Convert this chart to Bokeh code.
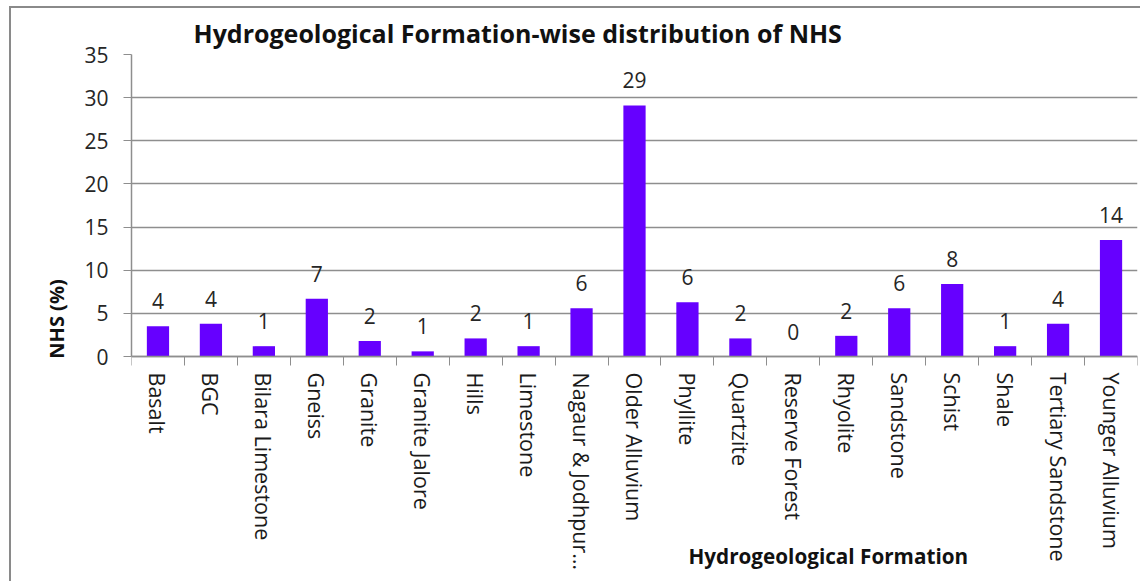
import math
from bokeh.plotting import figure
from bokeh.models import (ColumnDataSource, Range1d, LinearAxis, FixedTicker, LabelSet, Label)
from bokeh.core.properties import value
from bokeh.embed import file_html
from bokeh.resources import INLINE

categories = ["Basalt", "BGC", "Bilara Limestone", "Gneiss", "Granite", "Granite Jalore", "Hills",
              "Limestone", "Nagaur & Jodhpur…", "Older Alluvium", "Phyllite", "Quartzite",
              "Reserve Forest", "Rhyolite", "Sandstone", "Schist", "Shale", "Tertiary Sandstone",
              "Younger Alluvium"]
nhs_pct = [3.5, 3.8, 1.2, 6.7, 1.8, 0.6, 2.1, 1.2, 5.6, 29.1, 6.3, 2.1, 0.0, 2.4, 5.6, 8.4, 1.2, 3.8, 13.5]
y_ticks = [0, 5, 10, 15, 20, 25, 30, 35]

title_text = "Hydrogeological Formation-wise distribution of NHS"
x_title = "Hydrogeological Formation"
y_title = "NHS (%)"

FONT = "Open Sans"
GRID = "#8e8e8e"
BAR = "#6600FF"

n = len(categories)
centers = [i + 0.5 for i in range(n)]
src = ColumnDataSource(dict(x=centers, val=nhs_pct, lab=[f"{v:.0f}" for v in nhs_pct]))

# the frame reaches down to the bottom of the canvas so the category labels
# and the x-axis title (which overlaps them, as in the original) can live inside it
p = figure(width=1131, height=575, x_range=Range1d(0, n), y_range=Range1d(-26.3, 35),
           output_backend="svg", toolbar_location=None, x_axis_location=None,
           min_border_left=120, min_border_right=5, min_border_top=43, min_border_bottom=0,
           styles={"margin-left": "9px", "margin-top": "6px",
                   "border-left": "2px solid #8a8a8a", "border-top": "2px solid #8a8a8a"})
p.outline_line_color = None
p.background_fill_color = "white"
p.border_fill_color = "white"

p.vbar(x="x", top="val", width=0.42, source=src, fill_color=BAR, line_color=None)

labels = LabelSet(x="x", y="val", text="lab", source=src, text_align="center",
                  text_baseline="alphabetic", y_offset=17, text_font=value(FONT),
                  text_font_size="21px", text_color="#262626")
p.add_layout(labels)

# y axis
ya = p.yaxis[0]
ya.ticker = FixedTicker(ticks=y_ticks)
ya.bounds = (min(y_ticks), max(y_ticks))
ya.axis_label = y_title
ya.axis_label_text_font = FONT
ya.axis_label_text_font_style = "bold"
ya.axis_label_text_font_size = "20px"
ya.axis_label_text_color = "#111111"
ya.axis_label_standoff = 11
ya.major_label_text_font = FONT
ya.major_label_text_font_size = "21px"
ya.major_label_text_color = "#262626"
ya.major_label_standoff = 15
ya.major_tick_out = 8
ya.major_tick_in = 0
ya.minor_tick_line_color = None
ya.axis_line_color = GRID
ya.major_tick_line_color = GRID
ya.axis_line_width = 1.5

p.ygrid.ticker = FixedTicker(ticks=y_ticks)
p.ygrid.grid_line_color = GRID
p.ygrid.grid_line_width = 1.5
p.xgrid.grid_line_color = None

# boundary ticks on the category axis (Excel style)
bounds = list(range(n + 1))
tick_axis = LinearAxis(ticker=FixedTicker(ticks=bounds), fixed_location=0,
                       major_label_overrides={b: "" for b in bounds},
                       major_tick_out=9, major_tick_in=0, minor_tick_line_color=None,
                       major_label_standoff=0, major_label_text_font_size="1px",
                       axis_line_color=GRID, major_tick_line_color=GRID, axis_line_width=1.5)
p.add_layout(tick_axis, "below")

cat_axis = LinearAxis(ticker=FixedTicker(ticks=centers), fixed_location=0,
                      major_label_overrides={c: name for c, name in zip(centers, categories)},
                      major_label_orientation=-math.pi / 2, major_tick_line_color=None,
                      major_tick_out=0, major_tick_in=0,
                      minor_tick_line_color=None, axis_line_color=None, major_label_standoff=16,
                      major_label_text_font=FONT, major_label_text_font_size="21.5px",
                      major_label_text_color="#1a1a1a")
p.add_layout(cat_axis, "below")

p.title.text = title_text
p.title.text_font = FONT
p.title.text_font_size = "25px"
p.title.text_font_style = "bold"
p.title.text_color = "#111111"
p.title.align = "left"
p.title.offset = 62
p.title.standoff = 10

p.add_layout(Label(x=13.16, y=-24.7, text=x_title, text_align="center",
                   text_baseline="bottom", text_font=FONT, text_font_style="bold",
                   text_font_size="20.7px", text_color="#111111"))

open("out.html", "w").write(file_html(p, INLINE))
